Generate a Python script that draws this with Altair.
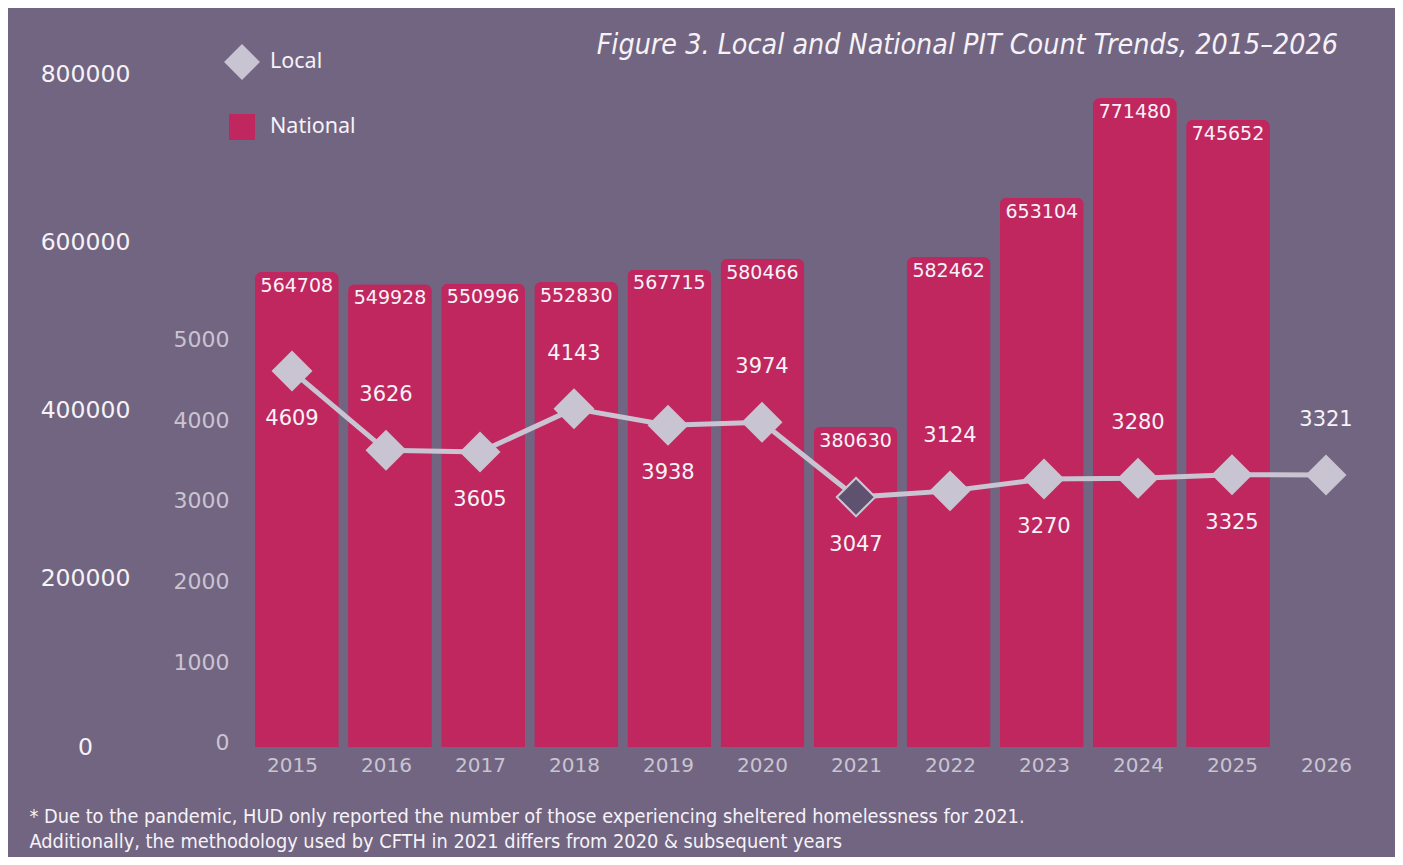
import altair as alt
import pandas as pd

years = [2015, 2016, 2017, 2018, 2019, 2020, 2021, 2022, 2023, 2024, 2025, 2026]
national = [564708, 549928, 550996, 552830, 567715, 580466, 380630, 582462, 653104, 771480, 745652, None]
local = [4609, 3626, 3605, 4143, 3938, 3974, 3047, 3124, 3270, 3280, 3325, 3321]
national_ticks = [0, 200000, 400000, 600000, 800000]
local_ticks = [0, 1000, 2000, 3000, 4000, 5000]
highlight_year = 2021
title_text = "Figure 3. Local and National PIT Count Trends, 2015\u20132026"
footnote = [
    " * Due to the pandemic, HUD only reported the number of those experiencing sheltered homelessness for 2021.",
    "Additionally, the methodology used by CFTH in 2021 differs from 2020 & subsequent years",
]

BG = "#726581"
BAR = "#c0275f"
LAV = "#c9c4d1"
DARK = "#5f5270"
WHITE = "#f6f3f8"
FONT = "DejaVu Sans"
LFONT = "Noto Sans"
CFONT = "Liberation Sans Narrow, DejaVu Sans Condensed, Roboto"
DIAMOND = "M0,-1.38L1.38,0L0,1.38L-1.38,0Z"

df = pd.DataFrame({"year": years, "national": national, "local": local})

xenc = alt.X(
    "year:O",
    scale=alt.Scale(paddingInner=0.1, paddingOuter=0.05),
    axis=alt.Axis(
        title=footnote,
        labelAngle=0, labelColor=LAV, labelFont=FONT, labelFontSize=20, labelPadding=8,
        domain=False, ticks=False, grid=False,
        titleAnchor="start", titleAlign="left", titleBaseline="top",
        titleX=-216, titleY=59, titleFont=CFONT, titleFontSize=19.8,
        titleFontWeight="normal", titleColor=WHITE, titleLineHeight=25,
    ),
)
xbar = alt.X(
    "year:O",
    scale=alt.Scale(domain=years, paddingInner=0.1, paddingOuter=0.107),
    axis=None,
)

nat_axis = alt.Axis(
    title=None, values=national_ticks, format="d", orient="left",
    labelAlign="center", labelPadding=160, labelColor=WHITE, labelFont=FONT,
    labelFontSize=23.5, labelBaseline="middle", domain=False, ticks=False, tickSize=0, grid=False,
)
loc_axis = alt.Axis(
    title=None, values=local_ticks, format="d", orient="left",
    labelAlign="right", labelPadding=16, labelColor=LAV, labelFont=FONT,
    labelFontSize=22, labelBaseline="middle", domain=False, ticks=False, tickSize=0, grid=False,
)
nat_scale = alt.Scale(domain=[0, 800000], nice=False, zero=False)
loc_scale = alt.Scale(domain=[-50, 8290], nice=False, zero=False)

color_scale = alt.Scale(domain=["Local", "National"], range=[LAV, BAR])
shape_scale = alt.Scale(domain=["Local", "National"], range=[DIAMOND, "square"])
legend = alt.Legend(
    title=None, orient="none", legendX=-16, legendY=-25,
    labelColor=WHITE, labelFont=LFONT, labelFontSize=21.5, symbolSize=676,
    symbolStrokeWidth=0, labelOffset=15, rowPadding=34, padding=0,
)

nat_base = alt.Chart(df).transform_filter("isValid(datum.national)").encode(x=xbar)

bars = nat_base.transform_calculate(series="'National'").mark_bar(
    cornerRadiusTopLeft=7, cornerRadiusTopRight=7
).encode(
    y=alt.Y("national:Q", scale=nat_scale, axis=nat_axis),
    color=alt.Color("series:N", scale=color_scale, legend=legend),
)
bar_text = nat_base.mark_text(
    baseline="middle", dy=14, font=FONT, fontSize=19, color=WHITE
).encode(
    y=alt.Y("national:Q", scale=nat_scale, axis=nat_axis),
    text=alt.Text("national:Q", format="d"),
)
nat_layer = alt.layer(bars, bar_text)

base = alt.Chart(df).encode(x=xenc)
line = base.mark_line(color=LAV, strokeWidth=5).encode(
    y=alt.Y("local:Q", scale=loc_scale, axis=loc_axis),
)
points = base.transform_calculate(series="'Local'").mark_point(
    filled=True, size=882, opacity=1
).encode(
    y=alt.Y("local:Q", scale=loc_scale, axis=loc_axis),
    color=alt.Color("series:N", scale=color_scale, legend=legend),
    shape=alt.Shape("series:N", scale=shape_scale, legend=legend),
)
hl = base.transform_filter(f"datum.year == {highlight_year}").mark_point(
    filled=True, shape=DIAMOND, size=760, fill=DARK, stroke=LAV, strokeWidth=2, opacity=1
).encode(
    y=alt.Y("local:Q", scale=loc_scale, axis=loc_axis),
)
below = base.transform_filter("datum.year % 2 == 1").mark_text(
    baseline="middle", dy=48, font=FONT, fontSize=21, color=WHITE
).encode(
    y=alt.Y("local:Q", scale=loc_scale, axis=loc_axis),
    text=alt.Text("local:Q", format="d"),
)
above = base.transform_filter("datum.year % 2 == 0").mark_text(
    baseline="middle", dy=-55, font=FONT, fontSize=21, color=WHITE
).encode(
    y=alt.Y("local:Q", scale=loc_scale, axis=loc_axis),
    text=alt.Text("local:Q", format="d"),
)
loc_layer = alt.layer(line, points, hl, below, above)

chart = alt.layer(nat_layer, loc_layer).resolve_scale(y="independent", x="independent").properties(
    width=1128, height=673,
    padding={"left": 237, "top": 66, "right": 22, "bottom": 110},
    autosize=alt.AutoSizeParams(type="none"),
    background=BG,
    title=alt.Title(
        title_text, anchor="end", frame="group", dx=-35, offset=-11,
        font=CFONT, fontStyle="italic", fontSize=28.4, fontWeight="normal", color=WHITE,
    ),
).configure_view(stroke=None)

chart.save("out.html", embed_options={"renderer": "svg", "actions": False})
